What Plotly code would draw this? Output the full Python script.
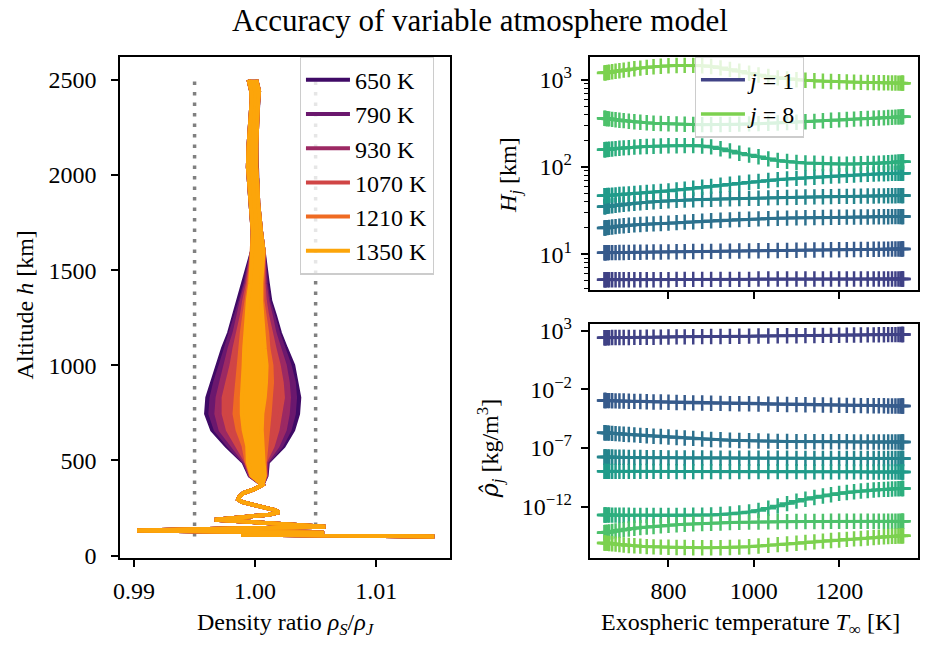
import plotly.graph_objects as go
from plotly.colors import sample_colorscale

SERIF = "Liberation Serif"

# ---------------- Left panel: density ratio profiles ----------------
PROFILE_TEMPS = [650, 790, 930, 1070, 1210, 1350]

# lower atmosphere (shared by all temperatures)
LOW_ALT = [100, 110, 120, 132, 152, 189, 202, 215, 228, 239, 256, 270, 282, 295, 309, 329, 351, 372]
LOW_RATIO = [1.0148, 0.99885, 1.0057, 0.99025, 1.0058, 0.99667, 0.99891, 1.0011, 1.00197, 1.00164,
             1.00055, 0.9996, 0.99891, 0.9986, 0.99869, 0.99904, 1.0000, 1.0006]

# middle atmosphere: centre of the spread and half-width per temperature
FAN_ALT = [420, 490, 575, 660, 745, 830, 910, 1000, 1090, 1170, 1260, 1340, 1430, 1520]
FAN_CENTER = [1.00025, 1.00005, 1.0000, 0.9998, 0.99975, 0.99985, 0.99995, 1.0000, 0.99995,
              0.99995, 0.99995, 0.99995, 1.00005, 1.00015]
FAN_SPREAD = {
    650: [0.0007, 0.0010, 0.00235, 0.00335, 0.0038, 0.0038, 0.0035, 0.00315, 0.0026, 0.0021, 0.0017, 0.0013, 0.0010, 0.0007],
    790: [0.00065, 0.00095, 0.00215, 0.00305, 0.00345, 0.00345, 0.00325, 0.00285, 0.00235, 0.00195, 0.00155, 0.00115, 0.00085, 0.00065],
    930: [0.00065, 0.00085, 0.00185, 0.00265, 0.00295, 0.00295, 0.00275, 0.00245, 0.00205, 0.00165, 0.00135, 0.00105, 0.00075, 0.0006],
    1070: [0.0006, 0.00075, 0.00145, 0.00205, 0.00235, 0.00245, 0.00225, 0.00195, 0.00165, 0.00135, 0.00105, 0.00085, 0.00065, 0.00055],
    1210: [0.00055, 0.00075, 0.00095, 0.00125, 0.00145, 0.00145, 0.00145, 0.00135, 0.00115, 0.00105, 0.00085, 0.00065, 0.00055, 0.0005],
    1350: [0.00055, 0.00065, 0.00065, 0.00075, 0.00085, 0.00095, 0.00095, 0.00095, 0.00085, 0.00075, 0.00065, 0.00055, 0.00045, 0.00045],
}

# upper atmosphere (shared)
TOP_ALT = [1600, 1700, 1850, 1950, 2040, 2150, 2270, 2380, 2440, 2500]
TOP_LEFT = [0.99975, 0.9998, 0.99966, 0.9995, 0.9994, 0.99945, 0.99962, 0.9997, 0.99967, 0.99945]
TOP_RIGHT = [1.0007, 1.0005, 1.00026, 1.0002, 1.0001, 1.0001, 1.00016, 1.00025, 1.00033, 1.0001]

TOLERANCE = [0.995, 1.005]
TOL_ALT = [100, 2500]

# ---------------- Right panels: fitted layer parameters ----------------
TEMPS = [650, 651, 653, 657, 661, 668, 676, 685, 695, 707,
         720, 734, 749, 765, 782, 800, 819, 838, 858, 879,
         900, 922, 944, 966, 989, 1011, 1034, 1056, 1078, 1100,
         1121, 1142, 1162, 1181, 1200, 1218, 1235, 1251, 1267, 1281,
         1293, 1305, 1315, 1324, 1332, 1339, 1344, 1347, 1349, 1350]

# scale heights H_j [km]
H_J1 = [5.10, 5.10, 5.10, 5.10, 5.10, 5.10, 5.10, 5.10, 5.10, 5.10,
        5.10, 5.10, 5.10, 5.10, 5.10, 5.10, 5.15, 5.15, 5.15, 5.15,
        5.15, 5.15, 5.15, 5.15, 5.15, 5.20, 5.20, 5.20, 5.20, 5.20,
        5.20, 5.20, 5.20, 5.20, 5.20, 5.20, 5.20, 5.20, 5.20, 5.20,
        5.20, 5.20, 5.20, 5.20, 5.20, 5.20, 5.20, 5.20, 5.20, 5.20]
H_J2 = [10.40, 10.40, 10.40, 10.41, 10.42, 10.43, 10.44, 10.46, 10.47, 10.49,
        10.51, 10.53, 10.56, 10.58, 10.61, 10.64, 10.67, 10.70, 10.73, 10.76,
        10.79, 10.83, 10.86, 10.90, 10.93, 10.97, 11.00, 11.04, 11.07, 11.11,
        11.14, 11.17, 11.20, 11.23, 11.26, 11.29, 11.32, 11.34, 11.37, 11.39,
        11.41, 11.43, 11.44, 11.46, 11.47, 11.48, 11.49, 11.49, 11.50, 11.50]
H_J3 = [20.0, 20.0, 20.1, 20.2, 20.3, 20.5, 20.7, 21.0, 21.2, 21.45,
        21.7, 21.9, 22.1, 22.3, 22.5, 22.7, 23.0, 23.3, 23.6, 23.9,
        24.2, 24.5, 24.75, 25.0, 25.2, 25.4, 25.6, 25.8, 25.95, 26.1,
        26.2, 26.3, 26.4, 26.5, 26.55, 26.6, 26.65, 26.7, 26.75, 26.8,
        26.85, 26.9, 26.92, 26.95, 26.97, 26.98, 26.99, 27.0, 27.0, 27.0]
H_J4 = [35.0, 35.05, 35.15, 35.35, 35.55, 35.9, 36.3, 36.75, 37.25, 37.8,
        38.3, 38.9, 39.5, 40.0, 40.5, 41.0, 41.4, 41.7, 42.0, 42.35,
        42.7, 42.95, 43.2, 43.4, 43.7, 43.9, 44.2, 44.5, 44.75, 45.0,
        45.2, 45.4, 45.6, 45.8, 46.0, 46.1, 46.2, 46.3, 46.45, 46.55,
        46.65, 46.7, 46.8, 46.85, 46.9, 46.95, 46.97, 46.98, 47.0, 47.0]
H_J5 = [46.8, 46.85, 46.9, 47.1, 47.3, 47.6, 47.9, 48.3, 48.7, 49.2,
        49.8, 50.4, 51.0, 51.7, 52.4, 53.2, 54.4, 55.7, 57.0, 58.5,
        60.0, 61.7, 63.4, 65.0, 66.8, 68.4, 70.1, 71.6, 72.9, 74.0,
        75.2, 76.4, 77.5, 78.5, 79.5, 80.3, 81.0, 81.7, 82.3, 82.9,
        83.4, 83.8, 84.1, 84.4, 84.6, 84.8, 84.9, 84.95, 85.0, 85.0]
H_J6 = [158, 158, 158.5, 159, 160, 161, 162.5, 164, 165.5, 167,
        169, 170.5, 172, 173, 174, 175, 175.5, 176, 176, 174,
        170, 162, 153, 144, 137, 131, 124, 119, 116, 113,
        111.5, 110.5, 109.5, 108.5, 108, 108, 108.5, 109, 109.5, 110,
        110.5, 111.5, 112, 113, 113.5, 114, 114.5, 115, 115, 115]
H_J7 = [362, 361, 360, 358, 356, 352, 348, 344, 340, 335,
        330, 326, 322, 318, 315, 313, 311, 309, 307, 306,
        306, 307, 308, 310, 312, 314, 317, 320, 323, 326,
        330, 334, 339, 343, 347, 350, 354, 357, 360, 362,
        364, 366, 369, 371, 373, 375, 376, 377, 378, 378]
H_J8 = [1200, 1202, 1206, 1214, 1222, 1236, 1252, 1270, 1290, 1313,
        1336, 1361, 1388, 1410, 1432, 1450, 1458, 1463, 1463, 1448,
        1420, 1370, 1315, 1255, 1190, 1135, 1090, 1053, 1025, 1000,
        987, 975, 965, 957, 950, 945, 940, 935, 932, 929,
        926, 924, 921, 919, 918, 916, 916, 915, 915, 915]

# base densities, stored as log10(rho_j / (kg/m^3))
LOG_RHO_J1 = [2.40, 2.40, 2.40, 2.40, 2.40, 2.41, 2.41, 2.41, 2.42, 2.42,
              2.43, 2.43, 2.44, 2.44, 2.45, 2.46, 2.47, 2.47, 2.48, 2.49,
              2.50, 2.50, 2.51, 2.52, 2.53, 2.54, 2.55, 2.56, 2.57, 2.57,
              2.58, 2.59, 2.60, 2.60, 2.61, 2.62, 2.63, 2.63, 2.64, 2.64,
              2.65, 2.65, 2.66, 2.66, 2.66, 2.67, 2.67, 2.67, 2.67, 2.67]
LOG_RHO_J2 = [-2.96, -2.96, -2.96, -2.97, -2.97, -2.98, -2.99, -3.00, -3.00, -3.02,
              -3.03, -3.04, -3.06, -3.08, -3.09, -3.11, -3.13, -3.14, -3.16, -3.17,
              -3.19, -3.20, -3.22, -3.23, -3.24, -3.26, -3.27, -3.28, -3.30, -3.31,
              -3.32, -3.33, -3.34, -3.35, -3.36, -3.37, -3.38, -3.39, -3.40, -3.40,
              -3.41, -3.41, -3.42, -3.42, -3.42, -3.43, -3.43, -3.43, -3.43, -3.43]
LOG_RHO_J3 = [-5.71, -5.71, -5.72, -5.73, -5.74, -5.76, -5.78, -5.80, -5.83, -5.86,
              -5.89, -5.93, -5.96, -6.00, -6.03, -6.07, -6.11, -6.15, -6.19, -6.24,
              -6.28, -6.31, -6.34, -6.37, -6.39, -6.41, -6.42, -6.44, -6.45, -6.46,
              -6.46, -6.47, -6.47, -6.48, -6.48, -6.48, -6.49, -6.49, -6.49, -6.49,
              -6.50, -6.50, -6.50, -6.50, -6.50, -6.50, -6.50, -6.50, -6.50, -6.50]
LOG_RHO_J4 = [-7.77, -7.77, -7.77, -7.77, -7.77, -7.78, -7.79, -7.80, -7.80, -7.81,
              -7.82, -7.82, -7.83, -7.84, -7.84, -7.85, -7.85, -7.86, -7.86, -7.86,
              -7.87, -7.87, -7.87, -7.88, -7.88, -7.88, -7.88, -7.88, -7.88, -7.89,
              -7.89, -7.89, -7.89, -7.89, -7.89, -7.90, -7.90, -7.90, -7.90, -7.90,
              -7.90, -7.90, -7.90, -7.90, -7.90, -7.90, -7.90, -7.90, -7.90, -7.90]
LOG_RHO_J5 = [-9.00, -9.00, -9.00, -9.00, -9.00, -9.00, -9.00, -9.00, -9.00, -9.00,
              -9.00, -9.00, -9.00, -9.00, -9.00, -9.00, -9.02, -9.02, -9.02, -9.02,
              -9.02, -9.02, -9.02, -9.02, -9.02, -9.02, -9.02, -9.02, -9.02, -9.02,
              -9.04, -9.04, -9.04, -9.04, -9.04, -9.04, -9.04, -9.04, -9.05, -9.05,
              -9.05, -9.05, -9.05, -9.05, -9.05, -9.05, -9.05, -9.05, -9.05, -9.05]
LOG_RHO_J6 = [-12.72, -12.72, -12.72, -12.72, -12.72, -12.73, -12.73, -12.74, -12.74, -12.74,
              -12.75, -12.75, -12.75, -12.76, -12.76, -12.76, -12.76, -12.75, -12.74, -12.73,
              -12.72, -12.68, -12.64, -12.55, -12.46, -12.33, -12.14, -11.95, -11.75, -11.54,
              -11.38, -11.23, -11.10, -10.99, -10.88, -10.80, -10.74, -10.68, -10.63, -10.59,
              -10.56, -10.54, -10.52, -10.50, -10.49, -10.48, -10.47, -10.46, -10.46, -10.46]
LOG_RHO_J7 = [-14.23, -14.22, -14.21, -14.19, -14.17, -14.13, -14.08, -14.03, -13.97, -13.91,
              -13.85, -13.80, -13.75, -13.70, -13.65, -13.60, -13.56, -13.52, -13.48, -13.45,
              -13.42, -13.40, -13.37, -13.35, -13.33, -13.32, -13.31, -13.30, -13.29, -13.28,
              -13.28, -13.27, -13.27, -13.26, -13.26, -13.26, -13.26, -13.26, -13.26, -13.26,
              -13.25, -13.25, -13.25, -13.25, -13.25, -13.25, -13.25, -13.25, -13.25, -13.25]
LOG_RHO_J8 = [-15.11, -15.11, -15.12, -15.14, -15.15, -15.18, -15.21, -15.24, -15.28, -15.32,
              -15.35, -15.38, -15.42, -15.44, -15.46, -15.47, -15.49, -15.50, -15.51, -15.52,
              -15.52, -15.51, -15.49, -15.46, -15.43, -15.37, -15.31, -15.25, -15.19, -15.13,
              -15.07, -15.01, -14.95, -14.90, -14.85, -14.80, -14.76, -14.72, -14.68, -14.64,
              -14.61, -14.58, -14.56, -14.54, -14.53, -14.51, -14.51, -14.50, -14.50, -14.50]

H_SERIES = [H_J1, H_J2, H_J3, H_J4, H_J5, H_J6, H_J7, H_J8]
LOG_RHO_SERIES = [LOG_RHO_J1, LOG_RHO_J2, LOG_RHO_J3, LOG_RHO_J4,
                  LOG_RHO_J5, LOG_RHO_J6, LOG_RHO_J7, LOG_RHO_J8]

# ---------------- colours ----------------
TEMP_COLORS = ["#3f0a66", "#6b186e", "#9c2963", "#d04545", "#ef6b22", "#fca50a"]
layer_colors = sample_colorscale("Viridis", [0.2 + 0.6 * k / 7 for k in range(8)])

fig = go.Figure()

# tolerance band markers
for xv in TOLERANCE:
    fig.add_trace(go.Scatter(
        x=[xv, xv], y=TOL_ALT, mode="lines",
        line=dict(color="#808080", width=3.5, dash="3.5px,7px"),
        showlegend=False, hoverinfo="skip", xaxis="x", yaxis="y"))

# density ratio profiles, coolest first
for t, col in zip(PROFILE_TEMPS, TEMP_COLORS):
    alt = LOW_ALT + FAN_ALT + TOP_ALT
    left = LOW_RATIO + [c - s for c, s in zip(FAN_CENTER, FAN_SPREAD[t])] + TOP_LEFT
    right = LOW_RATIO + [c + s for c, s in zip(FAN_CENTER, FAN_SPREAD[t])] + TOP_RIGHT
    fig.add_trace(go.Scatter(
        x=left, y=alt, mode="lines", name=f"{t} K",
        line=dict(color=col, width=4), legendgroup=str(t),
        legend="legend", xaxis="x", yaxis="y"))
    fig.add_trace(go.Scatter(
        x=right, y=alt, mode="lines", fill="tonextx", fillcolor=col,
        line=dict(color=col, width=4), legendgroup=str(t), showlegend=False,
        xaxis="x", yaxis="y"))

# scale heights and base densities per layer
for k in range(8):
    col = layer_colors[k]
    style = dict(mode="lines+markers", line=dict(color=col, width=3),
                 marker=dict(symbol="cross-thin", size=11, line=dict(color=col, width=2.5)),
                 showlegend=False)
    fig.add_trace(go.Scatter(x=TEMPS, y=H_SERIES[k], xaxis="x2", yaxis="y2", **style))
    fig.add_trace(go.Scatter(x=TEMPS, y=[10 ** v for v in LOG_RHO_SERIES[k]],
                             xaxis="x3", yaxis="y3", **style))

for k, label in [(0, "<i>j</i> = 1"), (7, "<i>j</i> = 8")]:
    fig.add_trace(go.Scatter(
        x=[None], y=[None], mode="lines", name=label,
        line=dict(color=layer_colors[k], width=3.5),
        legend="legend2", legendgroup=f"j{k}", xaxis="x2", yaxis="y2"))

W, Hpx = 925, 646
def px_x(v):
    return v / W
def px_y(v):
    return 1 - v / Hpx

tickfont = dict(family=SERIF, size=24, color="black")
axis_common = dict(showline=True, linecolor="black", linewidth=1.5, mirror=True,
                   ticks="outside", ticklen=7, tickwidth=1.5, tickcolor="black",
                   showgrid=False, zeroline=False, tickfont=tickfont)

decade_minor = [4, 5, 6, 7, 8, 9, 20, 30, 40, 50, 60, 70, 80, 90,
                200, 300, 400, 500, 600, 700, 800, 900]

legend_style = dict(xanchor="left", yanchor="top",
                    bgcolor="rgba(255,255,255,0.8)", bordercolor="#cccccc", borderwidth=1.2,
                    font=dict(family=SERIF, size=24), itemwidth=44, tracegroupgap=0)

fig.update_layout(
    width=W, height=Hpx,
    margin=dict(l=0, r=0, t=0, b=0),
    paper_bgcolor="white", plot_bgcolor="white",
    font=dict(family=SERIF, size=24, color="black"),
    xaxis=dict(domain=[px_x(114), px_x(446)], range=[0.98885, 1.01607],
               tickmode="array", tickvals=[0.99, 1.0, 1.01],
               ticktext=["0.99", "1.00", "1.01"], anchor="y", ticklabelstandoff=3,
               **axis_common),
    yaxis=dict(domain=[px_y(566), px_y(48)], range=[-15, 2622],
               tickmode="array", tickvals=[0, 500, 1000, 1500, 2000, 2500],
               anchor="x", ticklabelstandoff=10, **axis_common),
    xaxis2=dict(domain=[px_x(587), px_x(918)], range=[615, 1385],
                tickmode="array", tickvals=[800, 1000, 1200], showticklabels=False,
                anchor="y2", **axis_common),
    yaxis2=dict(domain=[px_y(289), px_y(48)], type="log", range=[0.589, 3.267],
                tickmode="array", tickvals=[10, 100, 1000],
                ticktext=["10<sup>1</sup>", "10<sup>2</sup>", "10<sup>3</sup>"],
                minor=dict(tickmode="array", tickvals=decade_minor, ticks="outside",
                           ticklen=4, tickwidth=1.2, tickcolor="black", showgrid=False),
                anchor="x2", ticklabelstandoff=4, **axis_common),
    xaxis3=dict(domain=[px_x(587), px_x(918)], range=[615, 1385],
                tickmode="array", tickvals=[800, 1000, 1200],
                anchor="y3", ticklabelstandoff=3, **axis_common),
    yaxis3=dict(domain=[px_y(566), px_y(324)], type="log", range=[-16.43, 3.57],
                tickmode="array", tickvals=[1e3, 1e-2, 1e-7, 1e-12],
                ticktext=["10<sup>3</sup>", "10<sup>−2</sup>", "10<sup>−7</sup>", "10<sup>−12</sup>"],
                anchor="x3", ticklabelstandoff=4, **axis_common),
    legend=dict(x=px_x(295), y=px_y(48), **legend_style),
    legend2=dict(x=px_x(693), y=px_y(48), **legend_style),
    showlegend=True,
)

annotations = [
    dict(text="Accuracy of variable atmosphere model", x=px_x(477), y=px_y(11),
         font=dict(family=SERIF, size=31)),
    dict(text="Density ratio <i>ρ<sub>S</sub></i>/<i>ρ<sub>J</sub></i>", x=px_x(281), y=px_y(634),
         font=dict(family=SERIF, size=24)),
    dict(text="Exospheric temperature <i>T</i><sub>∞</sub> [K]", x=px_x(749), y=px_y(634),
         font=dict(family=SERIF, size=24)),
    dict(text="Altitude <i>h</i> [km]", x=px_x(18), y=px_y(304), textangle=-90,
         font=dict(family=SERIF, size=24)),
    dict(text="<i>H<sub>j</sub></i> [km]", x=px_x(507), y=px_y(170), textangle=-90,
         font=dict(family=SERIF, size=24)),
    dict(text="<span style=\"font-family:'DejaVu Serif'\"><i>ρ̂</i></span><sub><i>j</i></sub> [kg/m<sup>3</sup>]",
         x=px_x(487), y=px_y(452), textangle=-90,
         font=dict(family=SERIF, size=24)),
]
for a in annotations:
    a.update(xref="paper", yref="paper", showarrow=False, xanchor="center", yanchor="middle")
fig.update_layout(annotations=annotations)

fig.write_html("out.html")
